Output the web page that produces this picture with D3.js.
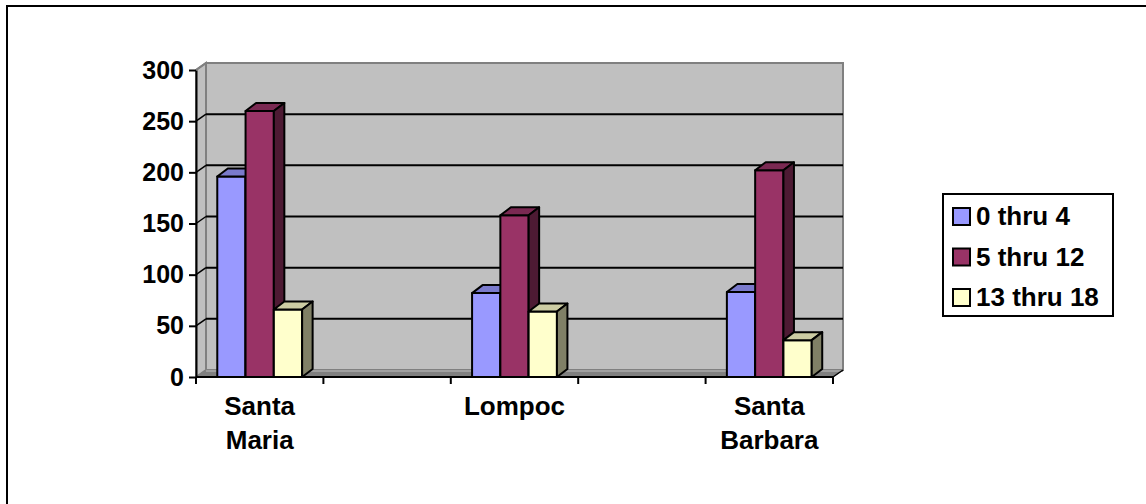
<!DOCTYPE html>
<html><head><meta charset="utf-8">
<script src="https://cdn.jsdelivr.net/npm/d3@7/dist/d3.min.js"></script>
<style>
html,body{margin:0;padding:0;background:#fff;}
svg{display:block;font-family:Arial,"Liberation Sans",sans-serif;font-weight:bold;}
</style></head>
<body><svg id="c" width="1146" height="504"></svg>
<script>
// ---- data ----
const categories = ["Santa Maria", "", "Lompoc", "", "Santa Barbara"];
const seriesNames = ["0 thru 4", "5 thru 12", "13 thru 18"];
const age0to4   = [196, null, 82, null, 83];
const age5to12  = [260, null, 158, null, 202];
const age13to18 = [66,  null, 64, null, 36];
const yTicks = [0, 50, 100, 150, 200, 250, 300];
const colors = ["#9999FF", "#993366", "#FFFFCC"];

const seriesValues = [age0to4, age5to12, age13to18];

const svg = d3.select("#c");
// outer border (clipped at right/bottom)
svg.append("rect").attr("x",7).attr("y",6).attr("width",1200).attr("height",600)
  .attr("fill","none").attr("stroke","#000").attr("stroke-width",2);

const x0 = 196, x1 = 833, yBottom = 377, yTop = 70;
const wdx = 10, wdy = 7;     // wall depth
const bdx = 10.5, bdy = 8;   // bar depth

const x = d3.scaleBand().domain(d3.range(categories.length)).range([x0, x1]);
const y = d3.scaleLinear().domain([0, 300]).range([yBottom, yTop]);
const bw = x.bandwidth();
const xs = d3.scaleBand().domain(d3.range(seriesNames.length)).range([bw*0.167, bw*0.833]);

const g = svg.append("g");
// side wall
g.append("path").attr("d", `M${x0},${y(300)}L${x0+wdx},${y(300)-wdy}L${x0+wdx},${y(0)-wdy}L${x0},${y(0)}Z`)
  .attr("fill","#C0C0C0").attr("stroke","#808080").attr("stroke-width",2);
// back wall
g.append("rect").attr("x",x0+wdx).attr("y",y(300)-wdy).attr("width",x1-x0).attr("height",y(0)-y(300))
  .attr("fill","#C0C0C0").attr("stroke","#808080").attr("stroke-width",2);
// gridlines
yTicks.filter(v=>v>0 && v<300).forEach(v=>{
  g.append("line").attr("x1",x0+wdx).attr("x2",x1+wdx).attr("y1",y(v)-wdy).attr("y2",y(v)-wdy)
    .attr("stroke","#000").attr("stroke-width",2);
  g.append("line").attr("x1",x0).attr("x2",x0+wdx).attr("y1",y(v)).attr("y2",y(v)-wdy)
    .attr("stroke","#000").attr("stroke-width",1.5);
});
// floor
g.append("path").attr("d", `M${x0},${y(0)}L${x0+wdx},${y(0)-wdy}L${x1+wdx},${y(0)-wdy}L${x1},${y(0)}Z`)
  .attr("fill","#808080").attr("stroke","#808080").attr("stroke-width",1);
g.append("line").attr("x1",x0+wdx).attr("x2",x1+wdx).attr("y1",y(0)-wdy+1).attr("y2",y(0)-wdy+1)
  .attr("stroke","#A0A0A0").attr("stroke-width",2);

// bars
function shade(c,k){const r=d3.rgb(c);return d3.rgb(r.r*k,r.g*k,r.b*k).toString();}
const bars = g.append("g").attr("stroke","#000").attr("stroke-width",2).attr("stroke-linejoin","round");
categories.forEach((cat,ci)=>{
  seriesValues.forEach((vals,si)=>{
    const v = vals[ci];
    if (v == null) return;
    const bx = x(ci) + xs(si), w = xs.bandwidth(), yt = y(v), yb = y(0);
    bars.append("rect").attr("x",bx).attr("y",yt).attr("width",w).attr("height",yb-yt).attr("fill",colors[si]);
    bars.append("path").attr("d",`M${bx},${yt}L${bx+bdx},${yt-bdy}L${bx+w+bdx},${yt-bdy}L${bx+w},${yt}Z`)
      .attr("fill",shade(colors[si],0.8));
    bars.append("path").attr("d",`M${bx+w},${yt}L${bx+w+bdx},${yt-bdy}L${bx+w+bdx},${yb-bdy}L${bx+w},${yb}Z`)
      .attr("fill",shade(colors[si],0.5));
  });
});

// y axis
const ya = svg.append("g").attr("transform",`translate(${x0},0)`)
  .call(d3.axisLeft(y).tickValues(yTicks).tickSize(7).tickPadding(5).tickSizeOuter(0));
ya.select(".domain").attr("stroke","#000").attr("stroke-width",2);
ya.selectAll(".tick line").attr("stroke","#000").attr("stroke-width",2);
ya.selectAll(".tick text").attr("font-size",25).attr("font-weight","bold")
  .attr("font-family","Arial, 'Liberation Sans', sans-serif").attr("fill","#000");
// diagonal at the top of the axis
svg.append("line").attr("x1",x0).attr("y1",y(300)).attr("x2",x0+wdx).attr("y2",y(300)-wdy)
  .attr("stroke","#808080").attr("stroke-width",2);

// x axis
svg.append("line").attr("x1",x0).attr("x2",x1).attr("y1",y(0)).attr("y2",y(0))
  .attr("stroke","#000").attr("stroke-width",2);
const tickPos = d3.range(categories.length).map(i=>x(i)).concat([x.range()[1]]);
svg.append("g").selectAll("line").data(tickPos).join("line")
  .attr("x1",d=>d).attr("x2",d=>d).attr("y1",y(0)).attr("y2",y(0)+7)
  .attr("stroke","#000").attr("stroke-width",2);
svg.append("line").attr("x1",x1).attr("y1",y(0)).attr("x2",x1+wdx).attr("y2",y(0)-wdy)
  .attr("stroke","#000").attr("stroke-width",1.5);

// category labels
const cl = svg.append("g").attr("font-size",26).attr("text-anchor","middle").attr("fill","#000");
categories.forEach((cat,ci)=>{
  if (!cat) return;
  const words = cat.split(" ");
  const t = cl.append("text").attr("x",x(ci)+bw/2).attr("y",415);
  words.forEach((wd,i)=>t.append("tspan").attr("x",x(ci)+bw/2).attr("y",415+i*34).text(wd));
});

// legend
const lg = svg.append("g");
lg.append("rect").attr("x",943).attr("y",194).attr("width",170).attr("height",122)
  .attr("fill","#fff").attr("stroke","#000").attr("stroke-width",2);
seriesNames.forEach((n,i)=>{
  const ty = 225 + i*40.5;
  lg.append("rect").attr("x",953).attr("y",ty-17).attr("width",17).attr("height",17)
    .attr("fill",colors[i]).attr("stroke","#000").attr("stroke-width",2);
  lg.append("text").attr("x",976).attr("y",ty).attr("font-size",26).attr("fill","#000").text(n);
});
</script></body></html>
